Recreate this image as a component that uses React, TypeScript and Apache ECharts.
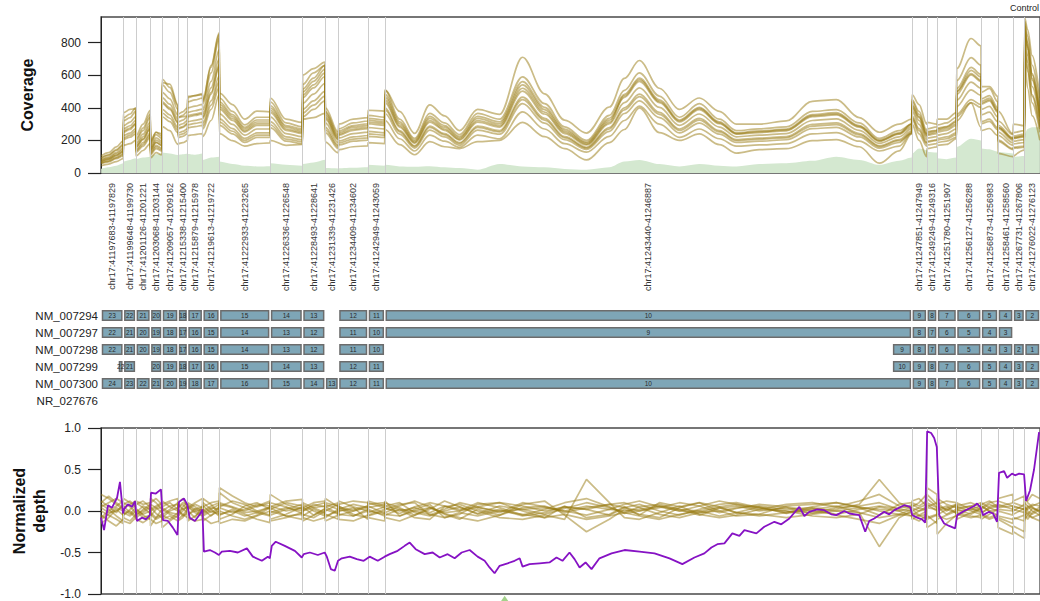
import React, { useEffect, useRef } from "react";
import * as echarts from "echarts";

const FONT = "'Liberation Sans', Arial, Helvetica, sans-serif";

const regionLabels = [
  "chr17:41197683-41197829", "chr17:41199648-41199730", "chr17:41201126-41201221",
  "chr17:41203068-41203144", "chr17:41209057-41209162", "chr17:41215338-41215400",
  "chr17:41215879-41215978", "chr17:41219613-41219722", "chr17:41222933-41223265",
  "chr17:41226336-41226548", "chr17:41228493-41228641", "chr17:41231339-41231426",
  "chr17:41234409-41234602", "chr17:41242949-41243059", "chr17:41243440-41246887",
  "chr17:41247851-41247949", "chr17:41249249-41249316", "chr17:41251780-41251907",
  "chr17:41256127-41256288", "chr17:41256873-41256983", "chr17:41258461-41258560",
  "chr17:41267731-41267806", "chr17:41276022-41276123",
];

const transcriptNames = ["NM_007294", "NM_007297", "NM_007298", "NM_007299", "NM_007300", "NR_027676"];

// exon placement: region index, or [start, end] in concatenated bp for partial exons
const txRegions: (number | [number, number])[][] = [
  [0, 1, 2, 3, 4, 5, 6, 7, 8, 9, 10, 12, 13, 14, 15, 16, 17, 18, 19, 20, 21, 22],
  [0, 1, 2, 3, 4, 5, 6, 7, 8, 9, 10, 12, 13, 14, 15, 16, 17, 18, 19, 20],
  [0, 1, 2, 3, 4, 5, 6, 7, 8, 9, 10, 12, 13, [5174, 5303], 15, 16, 17, 18, 19, 20, 21, 22],
  [[111, 146], 1, 3, 4, 5, 6, 7, 8, 9, 10, 12, 13, [5174, 5303], 15, 16, 17, 18, 19, 20, 21, 22],
  [0, 1, 2, 3, 4, 5, 6, 7, 8, 9, 10, 11, 12, 13, 14, 15, 16, 17, 18, 19, 20, 21, 22],
  [],
];
const txExonNumbers: number[][] = [
  [23, 22, 21, 20, 19, 18, 17, 16, 15, 14, 13, 12, 11, 10, 9, 8, 7, 6, 5, 4, 3, 2],
  [22, 21, 20, 19, 18, 17, 16, 15, 14, 13, 12, 11, 10, 9, 8, 7, 6, 5, 4, 3],
  [22, 21, 20, 19, 18, 17, 16, 15, 14, 13, 12, 11, 10, 9, 8, 7, 6, 5, 4, 3, 2, 1],
  [22, 21, 20, 19, 18, 17, 16, 15, 14, 13, 12, 11, 10, 9, 8, 7, 6, 5, 4, 3, 2],
  [24, 23, 22, 21, 20, 19, 18, 17, 16, 15, 14, 13, 12, 11, 10, 9, 8, 7, 6, 5, 4, 3, 2],
  [],
];

// positions (concatenated bp) of coverage / normalized sample points
const covX = [
  1, 50, 100, 145,
  147, 190, 227,
  229, 275, 322,
  324, 360, 398,
  400, 450, 503,
  505, 535, 565,
  567, 615, 664,
  666, 720, 773,
  775, 860, 940, 1020, 1105,
  1107, 1210, 1317,
  1319, 1390, 1465,
  1467, 1552,
  1554, 1650, 1745,
  1747, 1855,
  1857, 1953, 2051, 2150, 2247, 2345, 2463, 2607, 2757, 2901, 3032, 3175, 3325, 3423, 3521, 3652, 3783, 3913, 4044, 4155, 4305, 4482, 4652, 4809, 4959, 5090, 5220, 5302,
  5304, 5350, 5400,
  5402, 5467,
  5469, 5530, 5594,
  5596, 5690, 5755,
  5757, 5810, 5865,
  5867, 5964,
  5966, 6039,
  6041, 6060, 6090, 6140,
];

const controlCov = [
  25, 35, 45, 60,
  70, 80, 90,
  85, 95, 100,
  105, 115, 120,
  125, 120, 110,
  112, 115, 118,
  115, 112, 120,
  80, 95, 100,
  70, 55, 45, 40, 42,
  60, 50, 45,
  55, 65, 82,
  30, 28,
  30, 32, 35,
  50, 45,
  50, 40, 38, 42, 35, 30, 20, 55, 40, 35, 25, 20, 35, 70, 80, 55, 40, 55, 45, 40, 55, 60, 75, 100, 80, 50, 75, 95,
  120, 150, 140,
  130, 125,
  90, 85, 95,
  160, 210, 200,
  150, 145, 130,
  130, 120,
  100, 105,
  240, 270, 280, 280,
];

const cov1 = [45, 55, 70, 88, 170, 180, 200, 105, 138, 180, 92, 125, 112, 285, 260, 175, 180, 186, 198, 230, 236, 242, 223, 322, 480, 242, 198, 165, 180, 185, 200, 170, 175, 330, 340, 366, 190, 124, 143, 161, 167, 186, 180,
  267, 174, 112, 192, 161, 150, 192, 200, 310, 223, 149, 80, 186, 267, 400, 248, 200, 240, 174, 122, 143, 149, 198, 205, 161, 60, 136, 240,
  300, 200, 100, 150, 160, 170, 175, 210, 320, 430, 280, 260, 273, 230, 120, 100, 100, 140, 700, 520, 350, 200];
const cov2 = [58, 68, 88, 105, 205, 220, 240, 128, 165, 218, 112, 150, 135, 345, 315, 248, 218, 225, 240, 278, 285, 292, 270, 390, 525, 292, 240, 188, 218, 218, 278, 195, 180, 345, 390, 442, 248, 150, 172, 195, 202, 225, 218,
  322, 210, 135, 232, 195, 158, 232, 210, 375, 270, 180, 128, 225, 322, 410, 300, 218, 270, 210, 165, 172, 180, 240, 248, 195, 135, 165, 245,
  330, 240, 165, 172, 180, 188, 195, 218, 360, 450, 420, 315, 330, 278, 202, 150, 158, 165, 760, 620, 430, 250];
const cov3 = [65, 78, 98, 118, 230, 245, 272, 145, 187, 245, 128, 170, 153, 390, 357, 280, 246, 255, 272, 315, 323, 332, 306, 442, 595, 332, 272, 212, 246, 246, 315, 221, 204, 391, 442, 501, 280, 170, 195, 221, 230, 255, 246,
  365, 238, 153, 263, 221, 170, 263, 238, 425, 306, 204, 145, 255, 365, 442, 340, 246, 306, 238, 187, 195, 204, 272, 280, 221, 153, 187, 250,
  350, 272, 187, 195, 204, 212, 221, 246, 408, 510, 476, 357, 374, 315, 230, 170, 179, 187, 800, 680, 480, 290];
const cov4 = [70, 85, 108, 130, 250, 268, 298, 158, 205, 270, 140, 186, 168, 428, 390, 307, 270, 279, 298, 344, 353, 363, 335, 484, 651, 363, 298, 232, 270, 270, 344, 242, 223, 428, 484, 549, 307, 186, 214, 242, 251, 279, 270,
  400, 260, 167, 288, 242, 186, 288, 260, 465, 335, 223, 158, 279, 400, 484, 372, 270, 335, 260, 205, 214, 223, 298, 307, 242, 167, 205, 258,
  380, 298, 205, 214, 223, 232, 242, 270, 446, 558, 521, 390, 409, 344, 251, 186, 195, 205, 840, 720, 530, 320];
const cov5 = [78, 92, 118, 142, 272, 290, 322, 172, 222, 292, 152, 202, 182, 462, 422, 332, 292, 302, 322, 372, 382, 392, 362, 522, 702, 392, 322, 252, 292, 292, 372, 262, 242, 462, 522, 592, 332, 202, 232, 262, 272, 302, 292,
  432, 282, 182, 312, 262, 202, 312, 282, 502, 362, 242, 172, 302, 432, 522, 402, 292, 362, 282, 222, 232, 242, 322, 332, 262, 182, 222, 272,
  400, 322, 222, 232, 242, 252, 262, 292, 482, 602, 562, 422, 442, 372, 272, 202, 212, 222, 880, 760, 570, 340];
const cov6 = [82, 98, 125, 152, 290, 312, 345, 185, 238, 312, 162, 216, 195, 495, 455, 356, 313, 324, 345, 400, 410, 421, 389, 562, 756, 421, 346, 270, 313, 313, 400, 281, 259, 497, 562, 637, 356, 216, 248, 281, 292, 324, 313,
  464, 302, 194, 335, 281, 216, 335, 302, 540, 389, 259, 184, 324, 464, 562, 432, 313, 389, 302, 238, 248, 259, 346, 356, 281, 194, 238, 285,
  420, 346, 238, 248, 259, 270, 281, 313, 518, 648, 605, 455, 475, 400, 292, 216, 227, 238, 910, 800, 610, 370];
const cov7 = [90, 108, 138, 168, 320, 340, 378, 200, 260, 342, 178, 236, 212, 540, 495, 390, 342, 354, 378, 437, 448, 460, 425, 614, 826, 460, 378, 295, 342, 342, 437, 307, 283, 543, 614, 660, 380, 236, 271, 307, 319, 354, 342,
  507, 330, 212, 366, 307, 236, 366, 330, 590, 425, 283, 200, 354, 507, 614, 472, 342, 425, 330, 260, 271, 283, 378, 389, 307, 212, 260, 300,
  450, 378, 260, 271, 283, 295, 307, 342, 566, 708, 661, 495, 519, 437, 319, 236, 248, 260, 930, 840, 660, 410];
const cov8 = [105, 125, 160, 195, 370, 390, 395, 230, 300, 385, 200, 250, 240, 555, 545, 420, 340, 345, 350, 470, 475, 480, 440, 660, 860, 490, 420, 330, 380, 375, 460, 330, 310, 600, 640, 680, 400, 250, 300, 330, 340, 385, 380,
  510, 378, 243, 418, 351, 260, 390, 360, 710, 486, 324, 245, 405, 580, 690, 520, 390, 460, 378, 300, 300, 320, 440, 450, 340, 250, 300, 330,
  480, 420, 300, 310, 300, 330, 330, 370, 640, 825, 780, 530, 530, 470, 380, 240, 300, 290, 950, 880, 720, 460];
const cov9 = [60, 72, 92, 112, 216, 232, 256, 136, 176, 232, 120, 160, 144, 368, 336, 264, 232, 240, 256, 296, 304, 312, 288, 416, 560, 312, 256, 200, 232, 232, 296, 208, 192, 368, 416, 472, 264, 160, 184, 208, 216, 240, 232,
  387, 252, 162, 279, 234, 180, 279, 252, 450, 324, 216, 153, 270, 387, 468, 360, 261, 324, 252, 198, 207, 216, 288, 297, 234, 162, 198, 243,
  340, 260, 180, 190, 200, 200, 210, 235, 346, 432, 403, 302, 317, 266, 194, 144, 151, 158, 760, 640, 470, 270];
const cov10 = [71, 86, 109, 133, 257, 276, 304, 162, 209, 276, 143, 190, 171, 437, 399, 314, 276, 285, 304, 352, 361, 371, 342, 494, 665, 406, 333, 260, 302, 302, 385, 270, 250, 478, 541, 614, 343, 208, 239, 270, 281, 312, 302,
  447, 291, 187, 322, 270, 208, 322, 291, 520, 374, 250, 177, 312, 473, 572, 440, 319, 396, 308, 242, 253, 264, 352, 363, 286, 198, 242, 297,
  410, 340, 230, 240, 250, 262, 272, 302, 500, 630, 590, 440, 460, 385, 280, 210, 218, 230, 860, 780, 600, 350];
const cov11 = [94, 112, 144, 175, 338, 362, 400, 212, 275, 362, 188, 250, 225, 575, 525, 412, 362, 375, 400, 462, 475, 487, 450, 650, 850, 437, 358, 280, 325, 325, 414, 291, 269, 515, 582, 661, 370, 224, 258, 291, 302, 336, 325,
  482, 314, 202, 347, 291, 224, 347, 314, 560, 403, 269, 190, 336, 482, 582, 448, 325, 403, 314, 246, 258, 269, 358, 370, 291, 202, 246, 302,
  440, 360, 245, 255, 262, 275, 285, 320, 500, 610, 570, 430, 450, 380, 280, 210, 215, 226, 900, 770, 580, 345];

const norm1 = [0.12, 0.05, -0.02, 0.08, -0.05, 0.02, 0.06, 0.1, 0.04, -0.03, -0.18, -0.08, 0.02, 0.05, 0.1, 0.02, -0.04, 0.03, -0.02, 0.08, 0.02, 0.05, 0.15, 0.08, -0.03, 0.22, 0.1, 0.04, -0.02, 0.05, 0.2, 0.08, 0.02, -0.06, 0.02, -0.04, 0.05, -0.03, 0.02, 0.08, 0.04, -0.02, 0.05,
  0.1, 0.04, -0.05, 0.02, 0.12, 0.05, -0.03, 0.06, 0.02, -0.04, 0.03, 0.1, 0.04, -0.02, 0.05, 0.08, 0.02, -0.05, 0.03, 0.06, 0.0, 0.04, -0.03, 0.02, 0.08, 0.38, 0.1, 0.03,
  0.05, 0.1, 0.2, 0.15, 0.05, -0.05, 0.02, 0.06, 0.02, -0.04, 0.03, 0.06, 0.0, -0.05, 0.08, 0.02, -0.04, 0.03, 0.05, 0.0, -0.04, 0.02];
const norm2 = [-0.15, -0.08, 0.02, -0.05, 0.1, 0.05, -0.02, -0.06, 0.02, 0.08, 0.05, -0.03, -0.08, -0.2, -0.12, -0.05, 0.08, 0.02, 0.05, -0.05, 0.03, -0.02, 0.02, -0.06, 0.04, -0.1, -0.04, 0.06, 0.1, 0.02, -0.05, 0.02, 0.08, 0.1, 0.04, -0.02, -0.08, 0.02, 0.12, 0.05, 0.0, 0.06, -0.03,
  -0.02, 0.06, 0.12, 0.05, -0.04, -0.1, 0.02, -0.05, 0.08, 0.12, -0.05, -0.25, -0.1, 0.02, -0.04, -0.08, 0.04, 0.1, 0.05, -0.02, 0.05, -0.03, 0.02, 0.06, -0.02, -0.43, -0.08, 0.0,
  0.02, -0.05, -0.1, 0.28, 0.2, 0.05, -0.04, 0.02, -0.06, 0.04, -0.02, -0.03, 0.05, 0.08, -0.1, -0.2, -0.25, -0.33, 0.02, -0.05, 0.03, 0.0];
const norm3 = [0.05, 0.1, 0.15, 0.1, -0.08, -0.12, -0.05, 0.03, -0.05, -0.1, 0.1, 0.15, 0.08, 0.12, 0.05, 0.0, -0.1, -0.05, 0.02, 0.0, -0.08, 0.06, -0.04, 0.02, 0.08, 0.05, 0.12, 0.08, 0.0, -0.05, 0.04, -0.06, -0.1, 0.0, 0.08, 0.05, 0.1, 0.06, -0.05, 0.0, 0.06, 0.1, 0.04,
  0.04, -0.03, 0.05, 0.1, 0.06, 0.0, 0.1, 0.04, -0.05, 0.02, 0.1, 0.15, 0.05, -0.03, 0.0, 0.04, 0.1, 0.06, -0.02, 0.03, 0.08, 0.05, 0.0, -0.04, 0.02, 0.06, 0.03, 0.07,
  0.08, 0.03, 0.02, 0.05, 0.1, 0.15, 0.08, 0.04, 0.06, 0.1, 0.05, 0.02, 0.08, 0.04, 0.05, 0.1, 0.12, 0.18, -0.05, 0.04, 0.08, 0.06];
const norm4 = [-0.05, -0.12, -0.18, -0.1, 0.04, 0.08, 0.12, -0.02, 0.06, 0.02, -0.06, 0.02, 0.05, 0.02, -0.04, -0.08, 0.05, 0.1, 0.08, 0.1, 0.05, 0.0, -0.08, -0.15, -0.12, 0.0, -0.06, -0.1, -0.05, 0.04, 0.1, 0.05, -0.03, 0.05, -0.05, 0.02, -0.12, -0.05, 0.06, -0.04, -0.08, -0.05, 0.02,
  0.06, 0.1, -0.02, -0.06, 0.0, 0.05, -0.04, 0.02, -0.06, -0.02, 0.05, 0.02, -0.05, 0.04, 0.08, 0.0, -0.05, 0.02, 0.08, 0.1, 0.04, -0.02, 0.05, 0.1, 0.05, 0.0, -0.04, 0.02,
  -0.05, 0.0, 0.05, -0.1, -0.05, 0.02, 0.06, -0.03, 0.1, 0.02, 0.06, 0.1, 0.04, 0.0, -0.08, -0.15, -0.1, -0.05, 0.1, 0.06, 0.0, -0.05];
const norm5 = [0.2, 0.15, 0.08, 0.02, -0.02, -0.06, 0.0, 0.08, 0.12, 0.05, -0.1, -0.15, -0.12, -0.05, 0.02, 0.1, 0.02, -0.06, -0.03, -0.12, -0.06, 0.0, 0.05, 0.1, 0.12, -0.05, 0.02, -0.04, -0.1, -0.14, -0.1, -0.04, 0.05, -0.12, -0.05, 0.03, 0.0, 0.08, -0.1, -0.12, -0.05, 0.02, -0.06,
  -0.08, -0.12, -0.05, 0.04, -0.03, -0.08, -0.12, -0.05, 0.04, 0.06, -0.02, 0.04, 0.08, 0.1, 0.04, -0.04, -0.08, -0.02, 0.04, -0.02, -0.06, -0.02, 0.03, -0.05, -0.1, -0.15, -0.05, -0.02,
  -0.08, -0.12, -0.05, -0.05, -0.15, -0.1, -0.05, 0.0, -0.04, -0.08, -0.05, -0.05, -0.1, -0.06, 0.0, -0.05, 0.05, 0.02, -0.1, -0.05, -0.08, -0.12];
const norm6 = [-0.08, 0.0, 0.06, 0.12, 0.15, 0.1, 0.05, 0.0, -0.08, -0.05, 0.02, 0.06, 0.1, -0.1, -0.06, -0.12, -0.12, -0.08, 0.0, 0.04, 0.1, 0.15, -0.02, 0.04, 0.02, 0.28, 0.18, 0.1, 0.05, 0.1, 0.02, 0.1, 0.06, 0.04, 0.1, 0.12, -0.04, -0.1, 0.08, 0.12, 0.1, 0.08, 0.1,
  0.02, 0.08, 0.1, -0.05, 0.02, 0.1, 0.05, -0.02, 0.1, 0.05, 0.0, -0.05, 0.02, 0.08, 0.12, 0.05, 0.0, 0.06, 0.12, 0.08, 0.02, 0.08, 0.1, 0.05, 0.12, 0.2, 0.06, 0.04,
  0.1, 0.06, 0.12, 0.2, 0.08, 0.08, 0.12, 0.1, 0.02, 0.06, 0.1, 0.04, 0.1, 0.12, 0.12, 0.06, 0.0, 0.08, 0.15, 0.12, 0.2, 0.15];
const norm7 = [0.0, -0.05, -0.1, -0.15, -0.12, -0.15, -0.08, 0.12, 0.08, 0.1, -0.02, -0.08, -0.04, 0.08, 0.12, 0.15, -0.02, 0.05, 0.1, -0.08, -0.12, -0.1, 0.1, 0.02, -0.06, -0.15, -0.1, -0.12, -0.06, 0.0, -0.12, -0.08, -0.02, 0.08, 0.0, -0.06, 0.05, 0.1, 0.0, 0.04, -0.1, -0.08, -0.12,
  -0.05, 0.02, -0.08, -0.1, 0.05, 0.08, 0.0, -0.08, -0.1, -0.05, -0.1, 0.38, 0.1, -0.08, -0.1, -0.02, 0.06, -0.04, -0.08, -0.05, 0.02, 0.0, -0.06, -0.08, -0.04, 0.05, 0.0, -0.06,
  -0.1, -0.05, 0.0, 0.08, 0.0, -0.28, -0.15, -0.05, 0.05, 0.0, -0.04, -0.1, -0.04, 0.02, -0.2, -0.28, -0.18, -0.25, -0.04, -0.1, -0.02, 0.05];
const norm8 = [0.08, 0.02, -0.06, -0.12, 0.06, -0.02, -0.08, -0.1, -0.14, -0.08, 0.15, 0.1, 0.02, -0.05, -0.1, -0.02, 0.1, 0.15, 0.05, 0.05, -0.02, -0.06, -0.12, -0.05, 0.0, 0.1, 0.05, 0.0, 0.06, 0.12, 0.05, 0.12, 0.14, -0.08, -0.12, -0.08, 0.15, 0.05, 0.04, -0.06, 0.02, 0.12, 0.06,
  0.12, -0.06, 0.02, 0.08, -0.08, -0.04, 0.08, 0.1, 0.0, -0.08, 0.06, -0.08, -0.04, 0.05, -0.05, 0.1, 0.05, 0.1, 0.0, -0.06, -0.04, 0.06, 0.08, 0.1, 0.04, -0.05, 0.08, 0.1,
  0.12, 0.15, 0.06, -0.2, -0.12, 0.1, 0.0, 0.08, -0.1, -0.02, 0.04, 0.08, 0.12, 0.05, 0.15, 0.2, 0.1, 0.05, 0.2, 0.1, 0.05, -0.02];
const norm9 = [0.1, 0.18, 0.1, 0.04, 0.02, -0.04, 0.04, -0.04, 0.0, 0.06, 0.08, 0.04, -0.02, 0.0, 0.06, 0.08, -0.06, 0.0, 0.06, 0.02, 0.08, 0.04, 0.06, -0.02, 0.05, 0.04, -0.02, 0.02, 0.08, 0.06, -0.02, 0.04, 0.0, 0.02, 0.06, 0.1, 0.02, -0.04, 0.05, 0.0, 0.04, 0.0, -0.04,
  0.03, 0.0, 0.04, -0.02, 0.06, 0.02, 0.05, 0.1, 0.06, 0.0, 0.05, 0.02, 0.08, 0.04, 0.0, 0.06, 0.02, 0.0, 0.05, 0.08, 0.04, 0.0, -0.02, 0.04, 0.06, 0.1, 0.02, 0.0,
  0.0, 0.04, 0.08, 0.04, 0.02, 0.06, 0.02, -0.02, 0.04, 0.06, 0.02, -0.02, 0.03, 0.06, 0.02, 0.0, 0.06, 0.02, 0.04, 0.02, 0.06, 0.1];
const norm10 = [-0.1, -0.04, 0.04, 0.0, -0.04, 0.0, -0.06, 0.02, -0.04, 0.0, -0.04, -0.1, -0.06, 0.04, -0.02, -0.04, 0.0, -0.04, -0.08, -0.04, 0.0, -0.04, -0.06, 0.0, -0.04, -0.04, 0.0, -0.06, -0.02, -0.06, 0.0, -0.06, -0.04, -0.04, -0.08, 0.0, -0.06, 0.0, -0.04, -0.06, 0.0, -0.06, 0.0,
  -0.04, -0.06, 0.0, -0.04, -0.08, -0.02, -0.06, 0.0, -0.04, -0.08, -0.04, -0.1, -0.06, -0.02, -0.06, -0.1, -0.04, 0.0, -0.06, -0.02, -0.04, -0.08, -0.04, 0.0, -0.02, -0.08, -0.04, -0.06,
  -0.02, -0.06, -0.04, -0.08, -0.04, -0.06, -0.1, -0.06, -0.02, -0.06, -0.08, -0.04, -0.08, -0.04, -0.06, -0.1, -0.08, -0.12, -0.06, -0.02, -0.08, -0.04];
const norm11 = [0.04, -0.02, 0.0, 0.06, 0.08, 0.12, 0.06, -0.08, -0.02, 0.04, 0.0, 0.04, 0.08, -0.08, 0.0, 0.04, 0.04, 0.08, 0.02, 0.06, 0.0, 0.02, 0.0, 0.06, 0.1, 0.08, 0.04, -0.02, 0.0, 0.04, 0.06, 0.0, 0.04, 0.0, 0.04, 0.06, 0.08, 0.02, 0.0, 0.02, 0.06, 0.04, 0.08,
  0.06, 0.02, 0.0, 0.04, -0.02, 0.0, 0.04, 0.0, 0.02, 0.04, 0.0, 0.06, 0.02, 0.0, 0.02, 0.06, 0.0, -0.02, 0.0, 0.04, 0.06, 0.02, 0.04, 0.0, 0.04, 0.02, 0.0, 0.04,
  0.04, 0.0, 0.02, 0.1, 0.04, 0.0, 0.04, 0.08, 0.0, 0.02, 0.0, 0.06, 0.0, 0.02, 0.04, 0.06, 0.02, -0.02, 0.0, 0.06, 0.04, 0.0];

const caseX = [
  0, 20, 46, 72, 105, 124, 144, 150, 176, 203,
  222, 235, 268, 294, 320, 327, 359, 392, 405, 438,
  470, 500, 510, 542, 564, 580, 614, 647, 663, 673,
  712, 745, 771, 790, 843, 895, 954, 993, 1052, 1091,
  1104, 1117, 1143, 1202, 1268, 1313, 1326, 1366, 1418, 1463,
  1477, 1503, 1529, 1550, 1575, 1627, 1673, 1718, 1757, 1810,
  1855, 1888, 1940, 1986, 2019, 2058, 2117, 2169, 2215, 2267,
  2313, 2359, 2411, 2463, 2509, 2541, 2574, 2607, 2659, 2705,
  2738, 2757, 2803, 2868, 2933, 2979, 3018, 3064, 3097, 3130,
  3169, 3208, 3260, 3339, 3424, 3522, 3620, 3718, 3802, 3881,
  3946, 3992, 4031, 4077, 4129, 4175, 4208, 4286, 4338, 4404,
  4449, 4502, 4567, 4600, 4632, 4685, 4730, 4776, 4809, 4861,
  4894, 4959, 4998, 5024, 5057, 5122, 5155, 5188, 5253, 5292,
  5306, 5338, 5370, 5390, 5403, 5429, 5449, 5466, 5482, 5514,
  5547, 5586, 5599, 5645, 5678, 5710, 5730, 5753, 5769, 5808,
  5834, 5860, 5873, 5906, 5926, 5958, 5978, 6004, 6037, 6050,
  6076, 6102, 6135,
];
const caseNorm = [
  -0.08, -0.23, 0.07, 0.04, 0.16, 0.35, -0.03, 0.02, 0.08, 0.05,
  0.12, -0.12, -0.08, -0.1, -0.05, 0.22, 0.21, 0.26, -0.11, -0.12,
  -0.2, -0.29, 0.11, 0.15, 0.08, -0.08, -0.12, -0.04, 0.02, -0.49,
  -0.47, -0.5, -0.53, -0.49, -0.48, -0.5, -0.45, -0.55, -0.6, -0.55,
  -0.57, -0.42, -0.37, -0.42, -0.48, -0.56, -0.52, -0.5, -0.53, -0.5,
  -0.55, -0.7, -0.72, -0.6, -0.57, -0.55, -0.58, -0.6, -0.55, -0.6,
  -0.55, -0.52, -0.48, -0.42, -0.38, -0.46, -0.52, -0.5, -0.56, -0.52,
  -0.57, -0.5, -0.47, -0.55, -0.6, -0.68, -0.75, -0.66, -0.63, -0.6,
  -0.57, -0.67, -0.64, -0.63, -0.62, -0.56, -0.6, -0.5, -0.58, -0.68,
  -0.62, -0.7, -0.57, -0.51, -0.47, -0.49, -0.51, -0.57, -0.64, -0.56,
  -0.51, -0.44, -0.4, -0.39, -0.27, -0.3, -0.23, -0.27, -0.19, -0.13,
  -0.16, -0.09, 0.05, -0.06, -0.01, 0.02, 0.01, -0.04, -0.05, 0.0,
  -0.03, -0.05, -0.25, -0.12, -0.09, -0.01, -0.04, 0.01, 0.07, 0.05,
  -0.05, -0.08, -0.1, -0.14, 0.96, 0.94, 0.88, 0.77, -0.05, -0.15,
  -0.18, -0.21, -0.05, 0.0, 0.03, 0.06, 0.09, 0.04, -0.05, -0.01,
  -0.03, -0.13, 0.46, 0.48, 0.4, 0.45, 0.43, 0.45, 0.44, 0.12,
  0.25, 0.5, 0.95,
];

const markerX = [2640];
const markerY = [-1.07];

const coverageTicks = [0, 200, 400, 600, 800];
const depthTicks = [-1, -0.5, 0, 0.5, 1];

export default function App() {
  const ref = useRef<HTMLDivElement>(null);

  useEffect(() => {
    if (!ref.current) return;
    const chart = echarts.init(ref.current, undefined, { renderer: "svg" });

    const lens = regionLabels.map((l) => {
      const m = l.split(":")[1].split("-");
      return Number(m[1]) - Number(m[0]);
    });
    const starts: number[] = [];
    let acc = 0;
    lens.forEach((len) => {
      starts.push(acc);
      acc += len;
    });
    const total = acc;
    const ends = starts.map((s, i) => s + lens[i]);
    const centers = starts.map((s, i) => s + lens[i] / 2);
    const boundaries = starts.slice(1);

    const exonData: number[][] = [];
    txRegions.forEach((list, row) => {
      list.forEach((r, j) => {
        const se = typeof r === "number" ? [starts[r], ends[r]] : r;
        exonData.push([se[0], se[1], row, txExonNumbers[row][j]]);
      });
    });

    const GOLD = "#98790f";
    const covSamples = [cov1, cov2, cov3, cov4, cov5, cov6, cov7, cov8, cov9, cov10, cov11];
    const normSamples = [norm1, norm2, norm3, norm4, norm5, norm6, norm7, norm8, norm9, norm10, norm11];

    const zip = (xs: number[], ys: number[]) => ys.map((y, i) => [xs[i], y]);

    const boundaryLines = (xi: number) => ({
      type: "line",
      xAxisIndex: xi,
      yAxisIndex: xi,
      data: [],
      silent: true,
      z: 2,
      markLine: {
        silent: true,
        symbol: ["none", "none"],
        label: { show: false },
        lineStyle: { color: "#cdcdcd", width: 1, type: "solid" },
        data: boundaries.map((b) => ({ xAxis: b })),
      },
    });

    const xBase = {
      type: "value",
      min: 0,
      max: total,
      axisLine: { show: false },
      axisTick: { show: false },
      splitLine: { show: false },
    };

    const yLabelStyle = { color: "#222", fontSize: 12, fontFamily: FONT };

    const option: any = {
      animation: false,
      backgroundColor: "#fff",
      textStyle: { fontFamily: FONT },
      grid: [
        { left: 101, top: 17, width: 940, height: 156, show: true, borderColor: "#4a4a4a", borderWidth: 1.3, backgroundColor: "transparent" },
        { left: 101, top: 307, width: 940, height: 102, show: false },
        { left: 101, top: 428, width: 940, height: 166, show: true, borderColor: "#4a4a4a", borderWidth: 1.3, backgroundColor: "transparent" },
      ],
      xAxis: [
        {
          ...xBase,
          gridIndex: 0,
          axisLabel: {
            show: true,
            customValues: centers,
            rotate: 90,
            margin: 10,
            fontSize: 9,
            color: "#333",
            fontFamily: FONT,
            formatter: (v: number) => {
              const i = centers.findIndex((c) => Math.abs(c - v) < 0.01);
              return i >= 0 ? regionLabels[i] : "";
            },
          },
        },
        { ...xBase, gridIndex: 1, axisLabel: { show: false } },
        { ...xBase, gridIndex: 2, axisLabel: { show: false } },
      ],
      yAxis: [
        {
          type: "value",
          gridIndex: 0,
          min: 0,
          max: 957,
          interval: 200,
          name: "Coverage",
          nameLocation: "middle",
          nameGap: 66,
          nameTextStyle: { fontSize: 16, fontWeight: "bold", color: "#111", fontFamily: FONT },
          axisLine: { show: true, lineStyle: { color: "#222", width: 1 } },
          axisTick: { show: true, length: 13, lineStyle: { color: "#222", width: 1.2 }, customValues: coverageTicks },
          axisLabel: { ...yLabelStyle, margin: 20, customValues: coverageTicks },
          splitLine: { show: false },
        },
        {
          type: "category",
          gridIndex: 1,
          data: transcriptNames,
          inverse: true,
          axisLine: { show: false },
          axisTick: { show: false },
          axisLabel: { color: "#222", fontSize: 11.5, fontFamily: FONT, margin: 3 },
          splitLine: { show: false },
        },
        {
          type: "value",
          gridIndex: 2,
          min: -1,
          max: 1,
          interval: 0.5,
          name: "Normalized\ndepth",
          nameLocation: "middle",
          nameGap: 46,
          nameTextStyle: { fontSize: 16, fontWeight: "bold", color: "#111", fontFamily: FONT, lineHeight: 20 },
          axisLine: { show: true, lineStyle: { color: "#222", width: 1 } },
          axisTick: { show: true, length: 13, lineStyle: { color: "#222", width: 1.2 }, customValues: depthTicks },
          axisLabel: { ...yLabelStyle, margin: 20, customValues: depthTicks, formatter: (v: number) => v.toFixed(1) },
          splitLine: { show: false },
        },
      ],
      graphic: [
        { type: "text", left: 1010, top: 3, style: { text: "Control", fontSize: 9, fill: "#222", fontFamily: FONT } },
      ],
      series: [
        {
          type: "line",
          xAxisIndex: 0,
          yAxisIndex: 0,
          data: zip(covX, controlCov),
          showSymbol: false,
          silent: true,
          z: 1,
          smooth: 0.3,
          smoothMonotone: "x",
          lineStyle: { width: 0 },
          areaStyle: { color: "#d4e8d0", opacity: 1 },
        },
        boundaryLines(0),
        ...covSamples.map((s) => ({
          type: "line",
          xAxisIndex: 0,
          yAxisIndex: 0,
          data: zip(covX, s),
          showSymbol: false,
          silent: true,
          z: 3,
          smooth: 0.35,
          smoothMonotone: "x",
          lineStyle: { color: GOLD, width: 1.7, opacity: 0.5 },
        })),
        boundaryLines(2),
        ...normSamples.map((s) => ({
          type: "line",
          xAxisIndex: 2,
          yAxisIndex: 2,
          data: zip(covX, s),
          showSymbol: false,
          silent: true,
          z: 3,
          lineStyle: { color: GOLD, width: 1.7, opacity: 0.5 },
        })),
        {
          type: "line",
          xAxisIndex: 2,
          yAxisIndex: 2,
          data: zip(caseX, caseNorm),
          showSymbol: false,
          silent: true,
          z: 5,
          lineStyle: { color: "#8612c4", width: 1.8 },
        },
        {
          type: "scatter",
          xAxisIndex: 2,
          yAxisIndex: 2,
          data: zip(markerX, markerY),
          symbol: "triangle",
          symbolSize: [11, 8],
          clip: false,
          silent: true,
          z: 6,
          itemStyle: { color: "#8cc66d" },
        },
        {
          type: "custom",
          xAxisIndex: 1,
          yAxisIndex: 1,
          data: exonData,
          encode: { x: [0, 1], y: 2 },
          silent: true,
          renderItem: (params: any, api: any) => {
            const s = api.coord([api.value(0), api.value(2)]);
            const e = api.coord([api.value(1), api.value(2)]);
            const band = api.size([0, 1])[1];
            const h = band * 0.56;
            const x0 = s[0] + 1.5;
            const x1 = e[0] - 1.5;
            const w = Math.max(x1 - x0, 1.5);
            return {
              type: "group",
              children: [
                {
                  type: "rect",
                  shape: { x: x0, y: s[1] - h / 2, width: w, height: h },
                  style: { fill: "#7ea6b7", stroke: "#6c6c6c", lineWidth: 1.5 },
                },
                {
                  type: "text",
                  style: {
                    text: String(api.value(3)),
                    x: x0 + w / 2,
                    y: s[1],
                    align: "center",
                    verticalAlign: "middle",
                    fontSize: 6.5,
                    fill: "#2a2a2a",
                    fontFamily: FONT,
                  },
                },
              ],
            };
          },
        },
      ],
    };

    chart.setOption(option);
    return () => chart.dispose();
  }, []);

  return (
    <div
      ref={ref}
      style={{ position: "fixed", left: 0, top: 0, width: 1040, height: 601, background: "#fff" }}
    />
  );
}
